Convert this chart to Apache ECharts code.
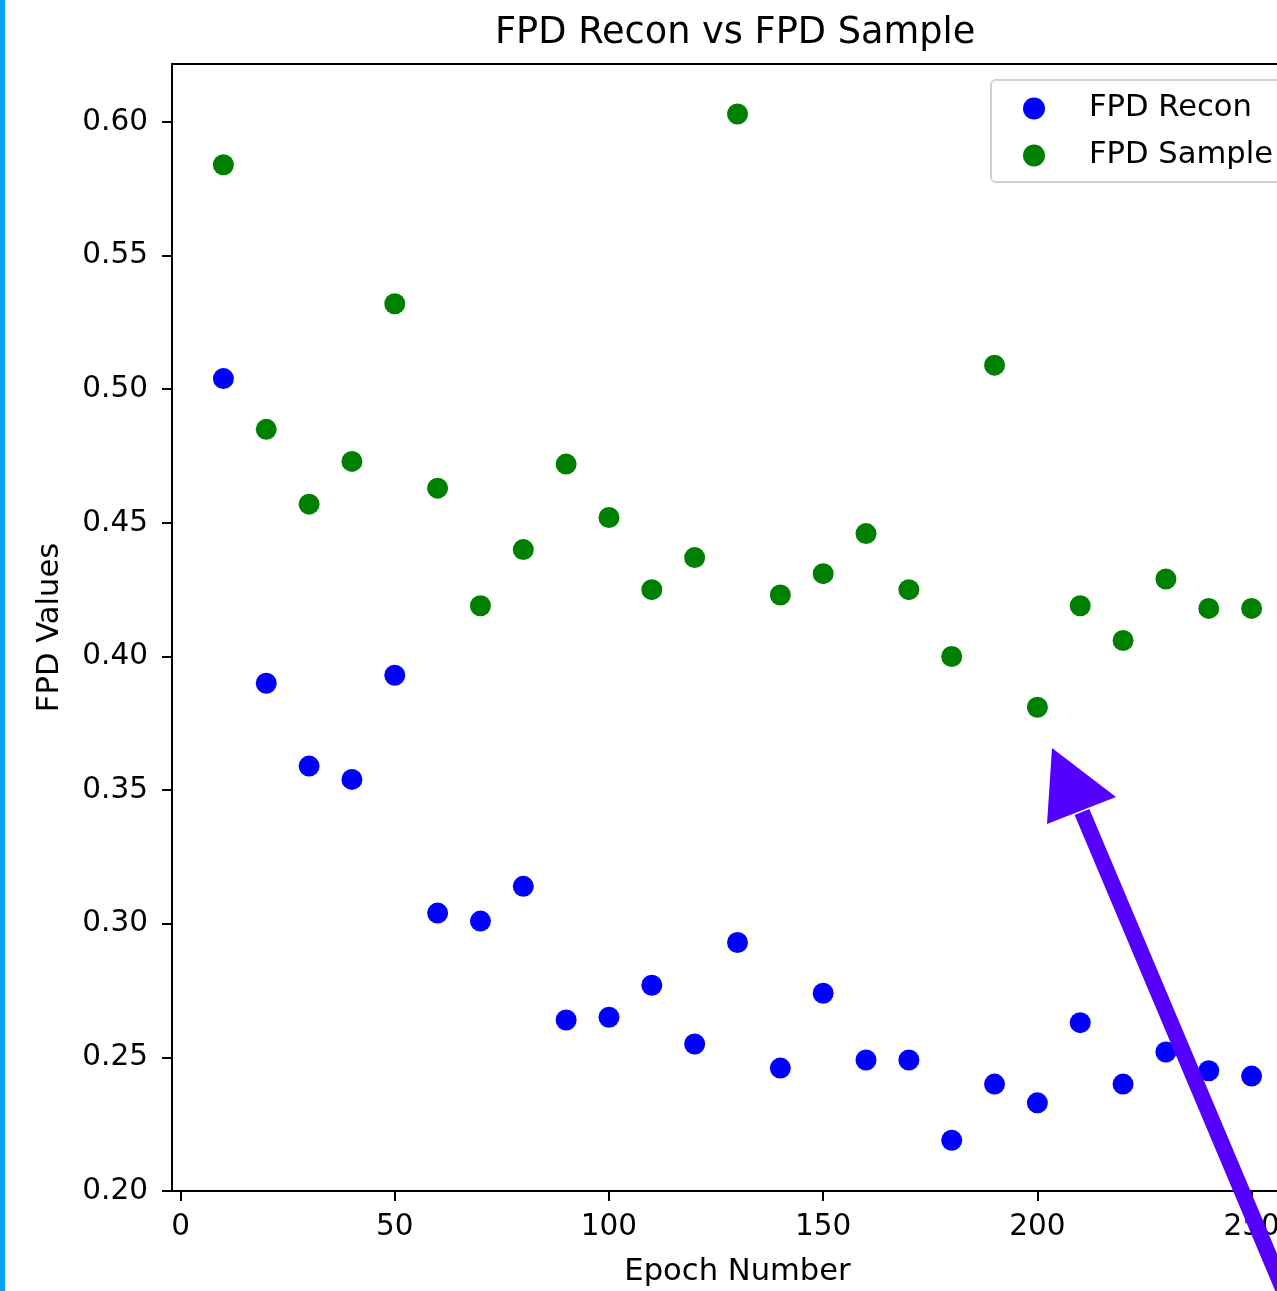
<!DOCTYPE html>
<html>
<head>
<meta charset="utf-8">
<title>FPD Recon vs FPD Sample</title>
<script src="https://cdn.jsdelivr.net/npm/echarts@6/dist/echarts.min.js"></script>
<style>
  html, body { margin: 0; padding: 0; background: #fff; }
  #chart { width: 1277px; height: 1291px; }
</style>
</head>
<body>
<div id="chart"></div>
<script>
// epochs and FPD values
const epochs = [10, 20, 30, 40, 50, 60, 70, 80, 90, 100, 110, 120, 130,
  140, 150, 160, 170, 180, 190, 200, 210, 220, 230, 240, 250]
const fpdRecon = [0.504, 0.390, 0.359, 0.354, 0.393, 0.304, 0.301, 0.314, 0.264, 0.265,
  0.277, 0.255, 0.293, 0.246, 0.274, 0.249, 0.249, 0.219, 0.240, 0.233,
  0.263, 0.240, 0.252, 0.245, 0.243]
const fpdSample = [0.584, 0.485, 0.457, 0.473, 0.532, 0.463, 0.419, 0.440, 0.472, 0.452,
  0.425, 0.437, 0.603, 0.423, 0.431, 0.446, 0.425, 0.400, 0.509, 0.381,
  0.419, 0.406, 0.429, 0.418, 0.418]

const toPairs = (ys) => epochs.map((x, i) => [x, ys[i]])

const font = 'DejaVu Sans'
const chart = echarts.init(document.getElementById('chart'))

const option = {
  animation: false,
  backgroundColor: '#fff',
  textStyle: { fontFamily: font },
  title: {
    text: 'FPD Recon vs FPD Sample',
    left: 495,
    top: 15,
    padding: 0,
    textStyle: { fontFamily: font, fontSize: 36.7, fontWeight: 'normal', color: '#000' }
  },
  grid: {
    left: 172,
    top: 64,
    right: -26,
    bottom: 100,
    outerBoundsMode: 'none',
    containLabel: false,
    show: true,
    borderColor: '#000',
    borderWidth: 2,
    backgroundColor: 'transparent'
  },
  legend: {
    orient: 'vertical',
    left: 991,
    top: 80,
    padding: [13, 32, 11, 32],
    itemGap: 16,
    itemWidth: 22,
    itemHeight: 22,
    icon: 'circle',
    backgroundColor: '#fff',
    borderColor: '#d0d0d0',
    borderWidth: 2,
    borderRadius: 5,
    textStyle: { fontFamily: font, fontSize: 30.6, color: '#000', padding: [0, 0, 0, 39] },
    data: ['FPD Recon', 'FPD Sample']
  },
  xAxis: {
    type: 'value',
    min: -2,
    max: 262,
    minInterval: 50,
    maxInterval: 50,
    name: 'Epoch Number',
    nameLocation: 'middle',
    nameGap: 66,
    nameTextStyle: { fontFamily: font, fontSize: 30.6, color: '#000' },
    axisLine: { show: true, onZero: false, lineStyle: { color: '#000', width: 2 } },
    axisTick: { show: true, inside: false, length: 10, lineStyle: { color: '#000', width: 2 } },
    axisLabel: { showMinLabel: false, showMaxLabel: false, margin: 21, fontFamily: font, fontSize: 29.5, color: '#000' },
    splitLine: { show: false }
  },
  yAxis: {
    type: 'value',
    min: 0.2,
    max: 0.6217,
    interval: 0.05,
    name: 'FPD Values',
    nameLocation: 'middle',
    nameGap: 106,
    nameTextStyle: { fontFamily: font, fontSize: 30.6, color: '#000' },
    axisLine: { show: true, onZero: false, lineStyle: { color: '#000', width: 2 } },
    axisTick: { show: true, inside: false, length: 10, lineStyle: { color: '#000', width: 2 } },
    axisLabel: {
      showMaxLabel: false,
      margin: 24,
      fontFamily: font,
      fontSize: 29.5,
      color: '#000',
      formatter: (v) => v.toFixed(2)
    },
    splitLine: { show: false }
  },
  series: [
    {
      name: 'FPD Recon',
      type: 'scatter',
      symbolSize: 21,
      itemStyle: { color: '#0000ff', opacity: 1 },
      data: toPairs(fpdRecon)
    },
    {
      name: 'FPD Sample',
      type: 'scatter',
      symbolSize: 21,
      itemStyle: { color: '#008000', opacity: 1 },
      data: toPairs(fpdSample)
    }
  ],
  graphic: [
    // blue scribbled edge on the left
    {
      type: 'rect',
      left: 0,
      top: 0,
      shape: { width: 5, height: 1291 },
      style: { fill: '#04a2fb' },
      z: 100
    },
    // purple arrow annotation
    {
      type: 'line',
      shape: { x1: 1082, y1: 812, x2: 1292, y2: 1310 },
      style: { stroke: '#5500ff', lineWidth: 16 },
      z: 100
    },
    {
      type: 'polygon',
      shape: { points: [[1052, 748], [1047, 824], [1116, 797]] },
      style: { fill: '#5500ff' },
      z: 100
    }
  ]
}

option && chart.setOption(option)
</script>
</body>
</html>
